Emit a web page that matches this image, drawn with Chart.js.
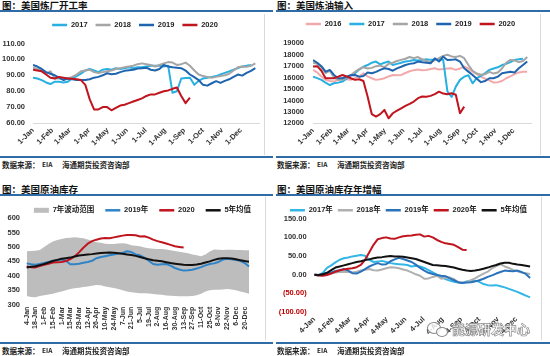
<!DOCTYPE html>
<html><head><meta charset="utf-8">
<script src="https://cdn.jsdelivr.net/npm/chart.js@4.4.0/dist/chart.umd.min.js"></script>
<style>
html,body{margin:0;padding:0;background:#fff;}
body{width:550px;height:356px;position:relative;overflow:hidden;font-family:'Noto Sans CJK SC','Liberation Sans',sans-serif;}
.t{position:absolute;font-size:9.5px;font-weight:700;color:#111;line-height:11px;white-space:nowrap;}
.s{position:absolute;font-size:7.5px;font-weight:700;color:#222;line-height:9px;white-space:nowrap;}
.r{position:absolute;height:2px;background:#2F6CA6;}
.v{position:absolute;width:1px;background:#D9D9D9;}
canvas{position:absolute;}
.wm{position:absolute;font:700 13px 'Noto Sans CJK SC';color:rgba(255,255,255,0.9);-webkit-text-stroke:0.7px #8a8a8a;white-space:nowrap;line-height:16px;}
.ci{position:absolute;border:1.2px solid #8a8a8a;border-radius:50%;background:rgba(255,255,255,0.8);}
</style></head><body>

<div class="t" style="left:2px;top:0px">图：美国炼厂开工率</div>
<div class="t" style="left:277px;top:0px">图：美国炼油输入</div>
<div class="t" style="left:2px;top:184px">图：美国原油库存</div>
<div class="t" style="left:277px;top:184px">图：美国原油库存年增幅</div>

<div class="r" style="left:0;top:10px;width:273px"></div>
<div class="r" style="left:276px;top:10px;width:274px"></div>
<div class="r" style="left:0;top:156px;width:273px"></div>
<div class="r" style="left:276px;top:156px;width:274px"></div>
<div class="r" style="left:0;top:194px;width:273px"></div>
<div class="r" style="left:276px;top:194px;width:274px"></div>
<div class="r" style="left:0;top:342px;width:273px"></div>
<div class="r" style="left:276px;top:342px;width:274px"></div>

<div class="v" style="left:264px;top:14px;height:141px"></div>
<div class="v" style="left:540px;top:14px;height:141px"></div>
<div class="v" style="left:265px;top:197px;height:143px"></div>
<div class="v" style="left:541px;top:197px;height:143px"></div>

<canvas id="c1" width="262" height="143" style="left:0px;top:13px"></canvas>
<canvas id="c2" width="262" height="143" style="left:275px;top:13px"></canvas>
<canvas id="c3" width="262" height="145" style="left:0px;top:197px"></canvas>
<canvas id="c4" width="262" height="145" style="left:275px;top:197px"></canvas>

<div class="s" style="left:2px;top:160px">数据来源：</div><div class="s" style="left:42px;top:160px;font-size:6.5px">EIA</div><div class="s" style="left:62px;top:160px">海通期货投资咨询部</div>
<div class="s" style="left:277px;top:160px">数据来源：</div><div class="s" style="left:317px;top:160px;font-size:6.5px">EIA</div><div class="s" style="left:337px;top:160px">海通期货投资咨询部</div>
<div class="s" style="left:2px;top:346px">数据来源：</div><div class="s" style="left:42px;top:346px;font-size:6.5px">EIA</div><div class="s" style="left:62px;top:346px">海通期货投资咨询部</div>
<div class="s" style="left:277px;top:346px">数据来源：</div><div class="s" style="left:317px;top:346px;font-size:6.5px">EIA</div><div class="s" style="left:337px;top:346px">海通期货投资咨询部</div>

<div class="ci" style="left:427px;top:322px;width:12px;height:10px"></div>
<div class="ci" style="left:436px;top:327px;width:10px;height:8px"></div>
<div class="wm" style="left:452px;top:321px">能源研发中心</div>

<script>
// ---------- shared axis info ----------
const weeks = Array.from({length:52}, (_, i) => i);
const monthDays = [0,31,59,90,120,151,181,212,243,273,304,334];
const monthPos = monthDays.map(d => d / 7);
const monthLabels1 = ['1-Jan','1-Feb','1-Mar','1-Apr','1-May','1-Jun','1-Jul','1-Aug','1-Sep','1-Oct','1-Nov','1-Dec'];
const monthLabels4 = ['4-Jan','4-Feb','4-Mar','4-Apr','4-May','4-Jun','4-Jul','4-Aug','4-Sep','4-Oct','4-Nov','4-Dec'];
const weekLabels3 = ['4-Jan','11-Jan','18-Jan','25-Jan','1-Feb','8-Feb','15-Feb','22-Feb','1-Mar','8-Mar','15-Mar','22-Mar','29-Mar','5-Apr','12-Apr','19-Apr','26-Apr','3-May','10-May','17-May','24-May','31-May','7-Jun','14-Jun','21-Jun','28-Jun','5-Jul','12-Jul','19-Jul','26-Jul','2-Aug','9-Aug','16-Aug','23-Aug','30-Aug','6-Sep','13-Sep','20-Sep','27-Sep','4-Oct','11-Oct','18-Oct','25-Oct','1-Nov','8-Nov','15-Nov','22-Nov','29-Nov','6-Dec','13-Dec','20-Dec','27-Dec'];

// ---------- chart 1: refinery utilization (%) ----------
const util2017 = [88.5,88,87,85.5,84.5,86,86,85.5,86,88,89.5,91,93,94,93,92,93.5,94,93.5,94.5,94,94.5,95,94.5,95,95,95.5,96,96,96,95.5,96,79,80,88,88.3,88.5,84,86.5,88,88.5,89,89.5,90.5,91.5,92.5,93.5,94.5,95.5,96,96.5,null];
const util2018 = [95,94,93.5,91,92.5,88,88,87.5,88,89,90.5,92.5,93,93.5,92,91.5,92,92.5,93,94,94.5,95,95.5,96,97,97.5,97,96.5,95.5,96.5,97.5,98.3,98,96.5,97,98,96,93,90.5,89.5,89,88.5,89,89.5,90,91,93,95,95.5,95.3,96,97.5];
const util2019 = [96.5,95.5,94,92,91,90,88.5,87,88,87.5,87,87,87,87.5,88.5,89,90,91.3,90.7,91,92,92.8,93.2,93.5,94.2,94.5,94.8,93.5,93,94,96.5,95.5,95,94.8,94.5,93,90.5,88.8,87,84,83.5,85,86.3,85.2,86.5,87.5,89,90.5,89.8,91.5,92.8,94.5];
const util2020 = [93.5,93,92.5,90.5,88.5,88,89,88.5,88,87.8,87.5,87,84,75,68.5,68.5,70,70,68,69.5,71,71.5,72.5,73.5,74.5,75.5,77,78,78,79,80,80.5,81.5,82.3,77,72.5,76];

// ---------- chart 2: refinery crude input (kb/d) ----------
const input2016 = [16670,16450,16100,15800,15700,15650,15800,15940,15850,15800,15950,16080,16380,16100,15940,15800,15850,15940,16100,16230,16200,16230,16400,16550,16650,16700,16650,16670,16750,16810,16700,16750,16800,16810,16670,16800,16950,16800,16520,16300,16080,15900,15750,15560,15600,15700,15940,16100,16300,16450,16520,16520];
const input2017 = [16080,15950,15800,15550,15350,15500,15560,15650,15900,16200,16380,16700,16950,17100,17300,17400,17150,17300,17400,17100,17200,17300,17400,17450,17540,17500,17550,17600,17550,17550,17600,17540,14800,14300,15210,15800,16080,16200,15500,15950,16150,16400,16670,16800,16900,17100,17200,17350,17540,17600,17650,null];
const input2018 = [17300,17200,16900,16400,16600,16000,15800,15800,16000,16200,16500,16750,16900,16800,16850,17000,17050,16900,17200,17300,17450,17550,17650,17800,17700,17800,17600,17450,17350,17500,17700,17900,18000,17850,17800,17900,17700,17100,16600,16350,16250,16300,16500,16350,16450,16800,17300,17550,17500,17350,17450,17800];
const input2019 = [17540,17300,17000,16520,16670,16230,15940,15940,16080,16200,16230,16080,16140,16450,16380,16500,16670,16810,16750,16600,16810,16950,17100,17200,17250,17400,17350,17300,17250,17690,17400,17830,17540,17550,17600,17400,16810,16520,16230,15900,15600,15700,15940,15940,16080,16380,16450,16520,16450,16810,17100,17400];
const input2020 = [16960,17000,16600,15940,15950,15940,16080,16230,16100,15940,15800,15850,15700,14340,12800,12590,12800,13170,12440,12880,13100,13310,13520,13700,13900,14200,14340,14330,14400,14550,14770,14600,14550,14630,14500,12880,13460];

// ---------- chart 3: crude inventories (million bbl) ----------
const rangeHigh = [485,486,487,489,500,510,519,524,527,531,532,533,532,530,526,520,516,514,511,510,510,512,513,511,506,504,502,498,495,494,493,493,491,488,486,483,481,478,474,471,468,474,484,491,490,489,490,490,489,489,488,488];
const rangeLow = [330,327,326,330,333,335,338,342,346,350,354,357,359,361,363,366,368,367,363,360,358,354,350,346,343,341,340,340,339,337,335,334,332,331,330,329,329,329,330,333,338,346,350,352,352,353,354,353,350,346,342,338];
const stocks2019 = [443,440,438,441,444,448,452,454,456,452,440,440,442,445,448,452,461,465,468,471,474,477,479,485,482,474,471,463,452,441,438,440,441,435,427,422,418,419,421,425,430,436,441,443,448,456,459,457,455,452,444,432];
const stocks2020 = [432,430,429,434,438,442,446,447,448,451,458,467,481,497,511,520,525,529,531,530,533,536,539,541,541,540,536,537,532,525,520,516,512,507,502,500,498];
const stocksAvg5 = [429,431,433,437,441,446,451,455,459,461,463,467,470,472,474,475,477,479,480,481,480,478,476,474,472,469,465,461,457,454,452,450,447,444,442,440,438,437,437,439,442,446,450,455,459,461,461,460,457,454,451,449];

// ---------- chart 4: inventory change since start of year ----------
const chg2017 = [0,-2,5,18,25,33,40,44,46,49,51,53,51,40,34,35,37,34,31,29,28,27,26,22,24,22,18,12,6,0,-6,-12,-16,-19,-21,-22,-18,-16,-16,-19,-25,-28,-29,-28,-31,-34,-38,-42,-46,-51,-56,-61];
const chg2018 = [0,-1,0,2,4,6,7,8,7,6,8,11,13,15,12,11,14,17,20,19,17,14,11,6,1,-3,-11,-10,-6,-3,-11,-8,-7,-12,-20,-21,-20,-15,-10,-3,3,8,17,23,28,22,18,13,9,6,4,2];
const chg2019 = [0,-1,1,4,6,10,12,15,11,4,3,8,15,22,27,31,27,28,36,41,45,42,38,34,27,18,11,5,2,-1,-3,-4,-10,-15,-20,-22,-21,-20,-18,-15,-11,-6,-2,3,7,11,10,9,11,7,2,-9];
const chg2020 = [0,-2,-3,-1,3,8,12,14,16,17,20,26,40,60,80,95,98,100,97,96,100,103,104,105,107,108,102,104,100,93,88,84,82,80,74,67,66];
const chgAvg5 = [0,-1,1,5,12,19,22,25,28,31,34,36,39,41,44,46,47,49,50,49,49,48,46,44,42,38,34,30,26,25,24,23,21,19,16,13,11,10,11,13,16,19,23,26,30,32,32,29,27,26,24,22];

// ---------- helpers ----------
const FONT = "'Liberation Sans','Noto Sans CJK SC',sans-serif";
const TICKFONT = {size:7.5, weight:'bold', family:FONT};
Chart.defaults.color = '#333';

function legendLabels(chart){
  const items = Chart.defaults.plugins.legend.labels.generateLabels(chart);
  return items.filter(it => chart.data.datasets[it.datasetIndex].label)
    .sort((a,b) => a.datasetIndex - b.datasetIndex)
    .map(it => {
      const ds = chart.data.datasets[it.datasetIndex];
      if (ds.fill) { it.pointStyle = 'rect'; it.fillStyle = ds.backgroundColor; it.strokeStyle = ds.backgroundColor; it.lineWidth = 0; }
      else { it.pointStyle = 'line'; it.strokeStyle = ds.borderColor; it.lineWidth = 2.5; it.lineCap = 'butt'; }
      return it;
    });
}

function layoutPlugin(g){
  return {
    id: 'fixLayout',
    beforeLayout(chart){
      const lg = chart.legend;
      if (lg && !lg._patched){
        const f = lg.fit;
        lg.fit = function(){ f.call(this); this.height = g.plotTop; };
        lg._patched = true;
      }
    },
    afterLayout(chart){
      const lg = chart.legend;
      const dx = g.legendCx - (lg.left + lg.right) / 2;
      lg.left += dx; lg.right += dx;
      const lo = chart.options.plugins.legend.labels;
      lg.top = g.legendCy - lo.padding - lo.font.size / 2;
    }
  };
}

function line(label, data, color, order, width){
  return {label, data, borderColor:color, backgroundColor:color, borderWidth:width||2, pointRadius:0, tension:0, fill:false, order, borderJoinStyle:'round'};
}

function build(id, g, data, xScale, yScale, legend){
  xScale.afterFit = s => { s.height = g.xAxisH; };
  yScale.afterFit = s => { s.width = g.yAxisW; };
  yScale.ticks.autoSkip = false;
  return new Chart(document.getElementById(id), {
    type: 'line',
    data,
    options: {
      responsive:false, animation:false, devicePixelRatio:1, events:[],
      layout:{padding:{top:0,left:0,right:g.padRight,bottom:0}},
      scales:{x:xScale, y:yScale},
      plugins:{
        tooltip:{enabled:false},
        filler:{propagate:false, drawTime:'beforeDatasetsDraw'},
        legend:{display:true, position:'top', align:'center',
          labels:{usePointStyle:true, pointStyleWidth:legend.bw, boxHeight:5, padding:legend.pad,
                  font:{size:7.5, weight:'bold', family:FONT}, color:'#222', generateLabels:legendLabels}}
      }
    },
    plugins:[layoutPlugin(g)]
  });
}

function monthAxis(labels, max){
  return {
    type:'linear', min:0, max:max,
    afterBuildTicks: s => { s.ticks = monthPos.map(v => ({value:v})); },
    grid:{display:false, drawTicks:false},
    border:{display:false},
    ticks:{autoSkip:false, minRotation:45, maxRotation:45, padding:3, font:TICKFONT, color:'#333',
           callback:(v,i) => labels[i]}
  };
}

// ---------- chart 1 ----------
const x1 = monthAxis(monthLabels1, 52);
x1.border = {display:true, color:'#D9D9D9'};
build('c1', {plotTop:30.5, xAxisH:33, yAxisW:33, padRight:2.3, legendCx:135, legendCy:12},
  {labels:weeks, datasets:[
    line('2017', util2017, '#29B0E3', 3),
    line('2018', util2018, '#A5A5A5', 2),
    line('2019', util2019, '#1F64AF', 1),
    line('2020', util2020, '#C0141E', 0)
  ]},
  x1,
  {min:60, max:110, grid:{display:false, drawTicks:false}, border:{display:false},
   ticks:{stepSize:10, padding:8, font:TICKFONT, color:'#333', callback:v => v.toFixed(2)}},
  {bw:15, pad:8});

// ---------- chart 2 ----------
const x2 = monthAxis(monthLabels1, 52);
x2.border = {display:true, color:'#D9D9D9'};
build('c2', {plotTop:30.3, xAxisH:32.7, yAxisW:38, padRight:5.6, legendCx:135.5, legendCy:11},
  {labels:weeks, datasets:[
    line('2016', input2016, '#F2A9AB', 4),
    line('2017', input2017, '#29B0E3', 3),
    line('2018', input2018, '#A5A5A5', 2),
    line('2019', input2019, '#1F64AF', 1),
    line('2020', input2020, '#C0141E', 0)
  ]},
  x2,
  {min:12000, max:19000, grid:{display:false, drawTicks:false}, border:{display:false},
   ticks:{stepSize:1000, padding:9, font:TICKFONT, color:'#333', callback:v => String(v)}},
  {bw:15, pad:8});

// ---------- chart 3 ----------
build('c3', {plotTop:21, xAxisH:37.3, yAxisW:26.7, padRight:13, legendCx:142.5, legendCy:13.3},
  {labels:weekLabels3, datasets:[
    {label:'7年波动范围', data:rangeHigh, fill:'+1', backgroundColor:'#BDBDBD', borderColor:'#BDBDBD', borderWidth:0, pointRadius:0, tension:0, order:4},
    {label:'', data:rangeLow, fill:false, backgroundColor:'#BDBDBD', borderColor:'rgba(0,0,0,0)', borderWidth:0, pointRadius:0, tension:0, order:5},
    line('2019年', stocks2019, '#2F84C8', 2),
    line('2020', stocks2020, '#C0141E', 1),
    line('5年均值', stocksAvg5, '#111111', 0)
  ]},
  {type:'category', grid:{display:false, drawTicks:false}, border:{display:false},
   ticks:{autoSkip:false, minRotation:90, maxRotation:90, padding:2, font:{size:7, weight:'bold', family:FONT}, color:'#333',
          callback:function(v,i){ return i % 2 === 0 ? weekLabels3[i] : ''; }}},
  {min:300, max:600, grid:{display:false, drawTicks:false}, border:{display:false},
   ticks:{stepSize:50, padding:6.7, font:TICKFONT, color:'#333', callback:v => String(v)}},
  {bw:15, pad:11});

// ---------- chart 4 ----------
build('c4', {plotTop:21.7, xAxisH:30, yAxisW:39.3, padRight:2.7, legendCx:133.5, legendCy:13.3},
  {labels:weeks, datasets:[
    line('2017年', chg2017, '#34B6E6', 4),
    line('2018年', chg2018, '#B0B0B0', 3),
    line('2019年', chg2019, '#2A73BC', 2),
    line('2020年', chg2020, '#C0141E', 1),
    line('5年均值', chgAvg5, '#111111', 0)
  ]},
  monthAxis(monthLabels4, 52),
  {min:-100, max:150, grid:{display:false, drawTicks:false}, border:{display:false},
   ticks:{stepSize:50, padding:7.6, font:TICKFONT,
          color:c => (c.tick && c.tick.value < 0) ? '#C00000' : '#333',
          callback:v => v < 0 ? '(' + Math.abs(v).toFixed(2) + ')' : v.toFixed(2)}},
  {bw:15, pad:5});
</script>
</body></html>
